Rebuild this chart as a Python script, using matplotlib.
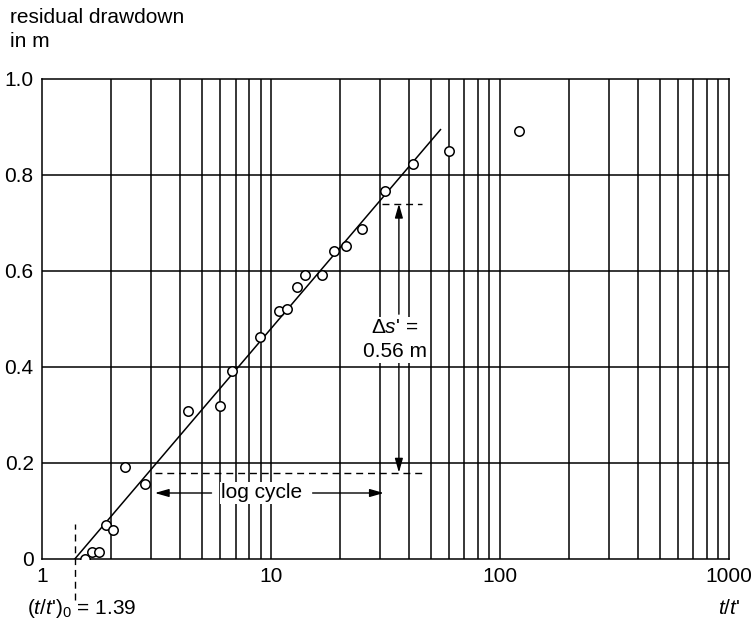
import numpy as np
import matplotlib.pyplot as plt

plt.rcParams['font.family'] = ['Liberation Sans', 'DejaVu Sans']
plt.rcParams['mathtext.fontset'] = 'custom'
plt.rcParams['mathtext.it'] = 'Liberation Sans:italic'
plt.rcParams['mathtext.rm'] = 'Liberation Sans'

# residual drawdown data (t/t' vs s')
t_ratio = [1.54, 1.65, 1.77, 1.90, 2.04, 2.30, 2.82, 4.34, 5.98, 6.76, 8.95,
           10.8, 11.75, 13.0, 14.1, 16.7, 18.8, 21.3, 25.0, 31.5, 41.7, 60.0, 121.0]
s_resid = [0.0, 0.015, 0.015, 0.071, 0.060, 0.192, 0.156, 0.308, 0.319, 0.392, 0.4625,
           0.517, 0.521, 0.567, 0.592, 0.592, 0.642, 0.652, 0.6875, 0.767, 0.823, 0.85, 0.892]

t0 = 1.39
ds = 0.56
x_fit = [t0, 55.0]

FS = 15

fig = plt.figure(figsize=(7.53, 6.25), dpi=100)
ax = fig.add_axes([0.0558, 0.1056, 0.9122, 0.768])

ax.set_xscale('log')
ax.set_xlim(1, 1000)
ax.set_ylim(0, 1.0)

# grid: every log line plus 0.2 steps
for dec in [1, 10, 100]:
    for k in range(2, 10):
        ax.axvline(dec * k, color='black', lw=1.1, zorder=1)
for dec in [10, 100]:
    ax.axvline(dec, color='black', lw=1.1, zorder=1)
for yv in [0.2, 0.4, 0.6, 0.8]:
    ax.axhline(yv, color='black', lw=1.1, zorder=1)

# fitted straight line
x_fit = np.array(x_fit)
ax.plot(x_fit, ds * np.log10(x_fit / t0), color='black', lw=1.1, zorder=3)

ax.plot(t_ratio, s_resid, 'o', mfc='white', mec='black', mew=1.1, ms=6.8, zorder=4)

# construction lines
dash = (0, (5, 3.5))
ax.plot([t0, t0], [-0.085, 0.073], ls=dash, color='black', lw=1.0, clip_on=False, zorder=2)
ax.plot([3.11, 45.6], [0.18, 0.18], ls=dash, color='black', lw=1.0, zorder=2)
ax.plot([30.5, 45.6], [0.74, 0.74], ls=dash, color='black', lw=1.0, zorder=2)

arr = dict(arrowstyle='-|>,head_length=0.7,head_width=0.2', color='black', lw=1.0,
           mutation_scale=12, shrinkA=0, shrinkB=0)
ax.annotate('', xy=(3.11, 0.1375), xytext=(5.5, 0.1375), arrowprops=arr, zorder=5)
ax.annotate('', xy=(31.1, 0.1375), xytext=(15.2, 0.1375), arrowprops=arr, zorder=5)
ax.text(9.1, 0.1375, 'log cycle', ha='center', va='center', fontsize=FS,
        bbox=dict(facecolor='white', edgecolor='none', pad=1), zorder=6)

ax.annotate('', xy=(36.2, 0.74), xytext=(36.2, 0.51), arrowprops=arr, zorder=5)
ax.annotate('', xy=(36.2, 0.18), xytext=(36.2, 0.41), arrowprops=arr, zorder=5)
ax.text(34.8, 0.457, "$\\Delta s$' =\n0.56 m", ha='center', va='center', fontsize=FS,
        linespacing=1.35, bbox=dict(facecolor='white', edgecolor='none', pad=1), zorder=6)

ax.set_xticks([1, 10, 100, 1000])
ax.set_xticklabels(['1', '10', '100', '1000'])
ax.set_yticks([0, 0.2, 0.4, 0.6, 0.8, 1.0])
ax.set_yticklabels(['0', '0.2', '0.4', '0.6', '0.8', '1.0'])
ax.minorticks_off()
ax.tick_params(length=0, labelsize=FS, pad=6)
for sp in ax.spines.values():
    sp.set_linewidth(1.1)

fig.text(0.013, 0.953, 'residual drawdown\nin m', fontsize=FS, ha='left', va='center', linespacing=1.3)
fig.text(0.036, 0.027, "$(t/t$')$_0$ = 1.39", fontsize=FS, ha='left', va='center')
fig.text(0.983, 0.027, "$t/t$'", fontsize=FS, ha='right', va='center')

fig.savefig('out.png', dpi=100)
